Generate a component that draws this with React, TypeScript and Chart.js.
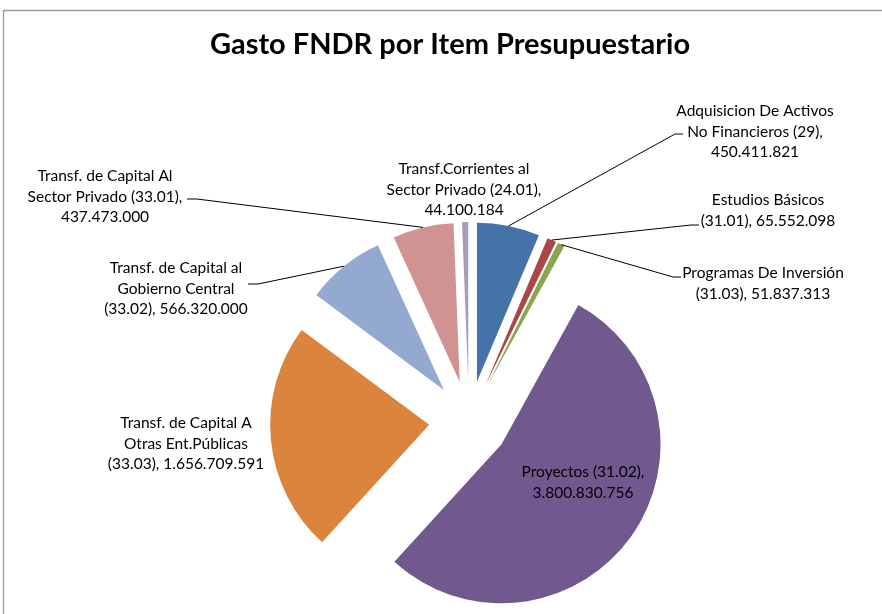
import React, { useEffect, useRef } from "react";
import { Chart, registerables } from "chart.js";

Chart.register(...registerables);

// ---- data ----
const categories: string[] = [
  "Adquisicion De Activos No Financieros (29)",
  "Estudios Básicos (31.01)",
  "Programas De Inversión (31.03)",
  "Proyectos (31.02)",
  "Transf. de Capital A Otras Ent.Públicas (33.03)",
  "Transf. de Capital al Gobierno Central (33.02)",
  "Transf. de Capital Al Sector Privado (33.01)",
  "Transf.Corrientes al Sector Privado (24.01)",
];
const values: number[] = [
  450411821, 65552098, 51837313, 3800830756, 1656709591, 566320000, 437473000, 44100184,
];
// label text lines as shown in the chart; "{v}" is replaced by the formatted value
const labelLines: string[][] = [
  ["Adquisicion De Activos", "No Financieros (29),", "{v}"],
  ["Estudios Básicos", "(31.01), {v}"],
  ["Programas De Inversión", "(31.03), {v}"],
  ["Proyectos (31.02),", "{v}"],
  ["Transf. de Capital A", "Otras Ent.Públicas", "(33.03), {v}"],
  ["Transf. de Capital al", "Gobierno Central", "(33.02), {v}"],
  ["Transf. de Capital Al", "Sector Privado (33.01),", "{v}"],
  ["Transf.Corrientes al", "Sector Privado (24.01),", "{v}"],
];
const colors: string[] = [
  "#4572A7", "#AA4643", "#89A54E", "#71588F", "#DB843D", "#93A9CF", "#D19392", "#A99BBD",
];
const title = "Gasto FNDR por Item Presupuestario";

// ---- layout (positions of label blocks / leader lines) ----
type LabelPos = { cx: number; y0: number; elbow?: [number, number]; stub?: [number, number] };
const labelPos: LabelPos[] = [
  { cx: 755, y0: 111, elbow: [675, 134], stub: [683, 134] },
  { cx: 768, y0: 200, elbow: [691, 225], stub: [699, 225] },
  { cx: 763, y0: 273, elbow: [673, 277], stub: [681, 277] },
  { cx: 583, y0: 472 },
  { cx: 186, y0: 423 },
  { cx: 176, y0: 268, elbow: [258, 284], stub: [248, 284] },
  { cx: 105, y0: 176, elbow: [197, 199], stub: [187, 199] },
  { cx: 464, y0: 169 },
];
const EXPLODE = 40;
const LINE_H = 20.5;
const LABEL_FONT = "15.5px Lato";
const TITLE_FONT = "bold 29px Lato";

const fmt = (v: number) => Math.round(v).toString().replace(/\B(?=(\d{3})+(?!\d))/g, ".");

const explodePlugin = {
  id: "explode",
  beforeDatasetsDraw(chart: any) {
    const ca = chart.chartArea;
    const cx = (ca.left + ca.right) / 2;
    const cy = (ca.top + ca.bottom) / 2;
    const meta = chart.getDatasetMeta(0);
    meta.data.forEach((el: any) => {
      const mid = (el.startAngle + el.endAngle) / 2;
      el.x = cx + EXPLODE * Math.cos(mid);
      el.y = cy + EXPLODE * Math.sin(mid);
    });
  },
};

const decorPlugin = {
  id: "decor",
  beforeDraw(chart: any) {
    const ctx = chart.ctx;
    ctx.save();
    ctx.fillStyle = "#ffffff";
    ctx.fillRect(0, 0, chart.width, chart.height);
    ctx.strokeStyle = "#9c9c9c";
    ctx.lineWidth = 1.3;
    ctx.beginPath();
    ctx.moveTo(3.5, chart.height);
    ctx.lineTo(3.5, 10.5);
    ctx.lineTo(chart.width, 10.5);
    ctx.stroke();
    ctx.restore();
  },
  afterDatasetsDraw(chart: any) {
    const ctx = chart.ctx;
    const meta = chart.getDatasetMeta(0);
    ctx.save();
    // leader lines
    ctx.strokeStyle = "#000000";
    ctx.lineWidth = 1;
    meta.data.forEach((el: any, i: number) => {
      const p = labelPos[i];
      if (!p.elbow || !p.stub) return;
      const mid = (el.startAngle + el.endAngle) / 2;
      const ox = el.x + el.outerRadius * Math.cos(mid);
      const oy = el.y + el.outerRadius * Math.sin(mid);
      ctx.beginPath();
      ctx.moveTo(ox, oy);
      ctx.lineTo(p.elbow[0], p.elbow[1]);
      ctx.lineTo(p.stub[0], p.stub[1]);
      ctx.stroke();
    });
    // labels
    ctx.font = LABEL_FONT;
    ctx.fillStyle = "#000000";
    ctx.textAlign = "center";
    ctx.textBaseline = "middle";
    labelLines.forEach((lines, i) => {
      const p = labelPos[i];
      lines.forEach((ln, j) => {
        ctx.fillText(ln.replace("{v}", fmt(values[i])), p.cx, p.y0 + j * LINE_H);
      });
    });
    // title
    ctx.font = TITLE_FONT;
    ctx.textBaseline = "alphabetic";
    ctx.fillText(title, 450, 54);
    ctx.restore();
  },
};

export default function App() {
  const ref = useRef<HTMLCanvasElement | null>(null);
  useEffect(() => {
    if (!ref.current) return;
    const chart = new Chart(ref.current, {
      type: "pie",
      data: {
        labels: categories,
        datasets: [
          {
            data: values,
            backgroundColor: colors,
            borderWidth: 0,
          },
        ],
      },
      options: {
        animation: false,
        responsive: false,
        devicePixelRatio: 1,
        events: [],
        radius: 159,
        rotation: 0,
        layout: { padding: { left: 56, right: 0, top: 228, bottom: 0 } },
        plugins: {
          legend: { display: false },
          tooltip: { enabled: false },
          title: { display: false },
        },
      } as any,
      plugins: [explodePlugin, decorPlugin],
    });
    return () => chart.destroy();
  }, []);
  return (
    <div style={{ position: "absolute", left: 0, top: 0, width: 882, height: 614 }}>
      <canvas ref={ref} width={882} height={614} />
    </div>
  );
}
